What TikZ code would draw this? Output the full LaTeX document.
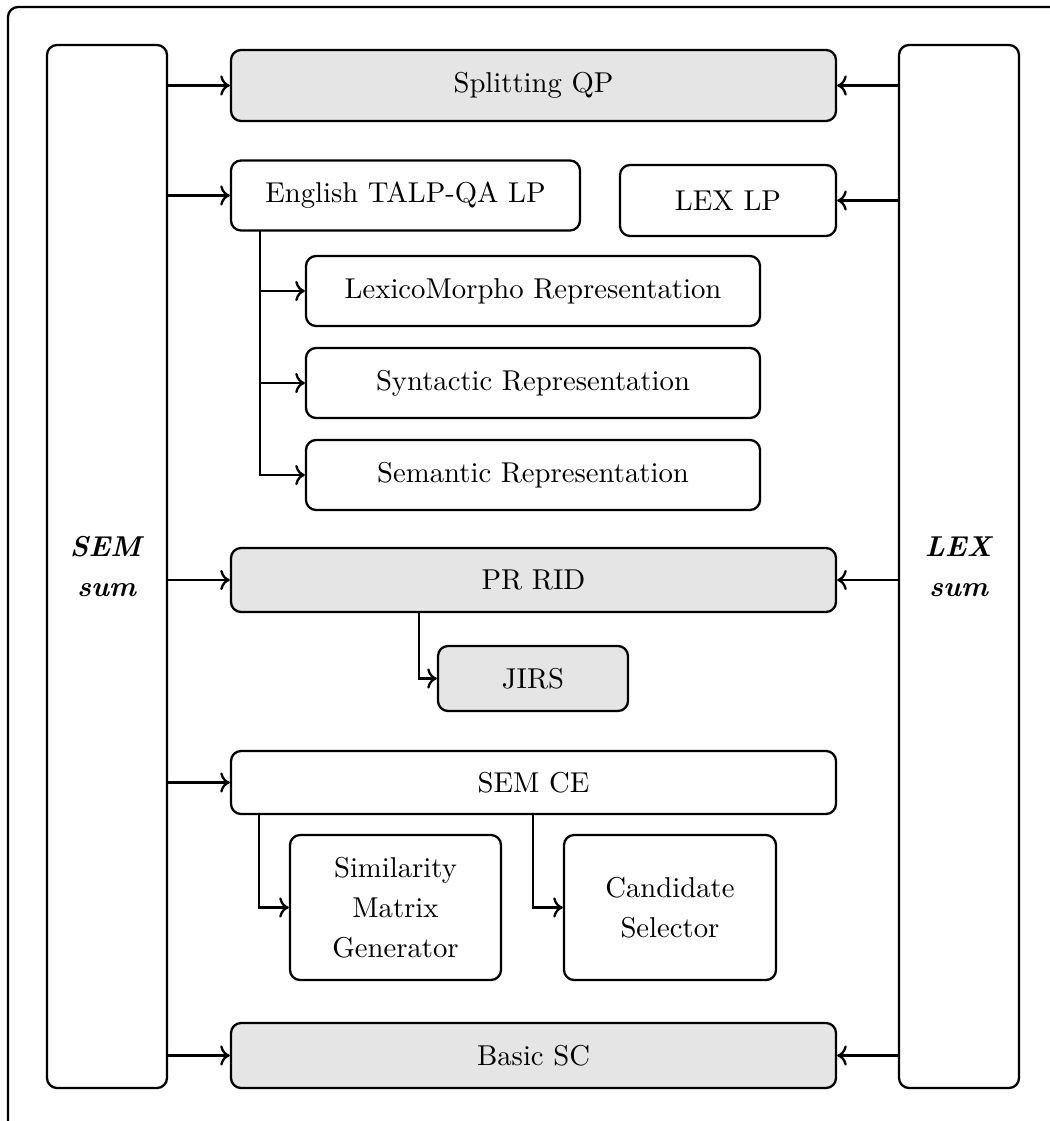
\documentclass[tikz,border=0pt]{standalone}
\usetikzlibrary{arrows.meta}
\begin{document}
\begin{tikzpicture}[x=0.3484pt,y=-0.3484pt,
  box/.style={draw,thick,rounded corners=3.5pt,inner sep=0pt,align=center,
    font=\fontsize{10}{14}\selectfont},
  graybox/.style={box,fill=gray!20},
  conn/.style={thick,->}]
\useasboundingbox (0,0) rectangle (1049,1121);
\draw[thick,rounded corners=3.5pt] (8,7) rectangle (1120,1200);

\node[box,minimum width=120*0.3484pt,minimum height=1043*0.3484pt] (sem) at (107,566.5) {\textbf{\textit{SEM}}\\\textbf{\textit{sum}}};
\node[box,minimum width=120*0.3484pt,minimum height=1043*0.3484pt] (lex) at (959,566.5) {\textbf{\textit{LEX}}\\\textbf{\textit{sum}}};

\node[graybox,minimum width=605*0.3484pt,minimum height=71*0.3484pt] (split) at (533.5,85.5) {Splitting QP};
\node[box,minimum width=349*0.3484pt,minimum height=70*0.3484pt] (eng) at (405.5,195.5) {English TALP-QA LP};
\node[box,minimum width=216*0.3484pt,minimum height=71*0.3484pt] (lexlp) at (728,200.5) {LEX LP};
\node[box,minimum width=454*0.3484pt,minimum height=70*0.3484pt] (lm) at (533,291) {LexicoMorpho Representation};
\node[box,minimum width=454*0.3484pt,minimum height=70*0.3484pt] (syn) at (533,383) {Syntactic Representation};
\node[box,minimum width=454*0.3484pt,minimum height=70*0.3484pt] (semr) at (533,475) {Semantic Representation};
\node[graybox,minimum width=605*0.3484pt,minimum height=64*0.3484pt] (prrid) at (533.5,580) {PR RID};
\node[graybox,minimum width=190*0.3484pt,minimum height=65*0.3484pt] (jirs) at (533,678.5) {JIRS};
\node[box,minimum width=605*0.3484pt,minimum height=63*0.3484pt] (semce) at (533.5,782.5) {SEM CE};
\node[box,minimum width=211*0.3484pt,minimum height=145*0.3484pt] (sim) at (395.5,907.5) {Similarity\\Matrix\\Generator};
\node[box,minimum width=212*0.3484pt,minimum height=145*0.3484pt] (cand) at (670,907.5) {Candidate\\Selector};
\node[graybox,minimum width=605*0.3484pt,minimum height=65*0.3484pt] (basic) at (533.5,1055.5) {Basic SC};

% left side arrows
\draw[conn] (split.west -| sem.east) -- (split.west);
\draw[conn] (eng.west -| sem.east) -- (eng.west);
\draw[conn] (prrid.west -| sem.east) -- (prrid.west);
\draw[conn] (semce.west -| sem.east) -- (semce.west);
\draw[conn] (basic.west -| sem.east) -- (basic.west);
% right side arrows
\draw[conn] (split.east -| lex.west) -- (split.east);
\draw[conn] (lexlp.east -| lex.west) -- (lexlp.east);
\draw[conn] (prrid.east -| lex.west) -- (prrid.east);
\draw[conn] (basic.east -| lex.west) -- (basic.east);
% branches
\coordinate (e0) at (260,230.5);
\draw[conn] (e0) |- (lm.west);
\draw[conn] (e0) |- (syn.west);
\draw[conn] (e0) |- (semr.west);
\coordinate (p0) at (419,612);
\draw[conn] (p0) |- (jirs.west);
\coordinate (c1) at (259,814);
\coordinate (c2) at (533,814);
\draw[conn] (c1) |- (sim.west);
\draw[conn] (c2) |- (cand.west);
\end{tikzpicture}
\end{document}
